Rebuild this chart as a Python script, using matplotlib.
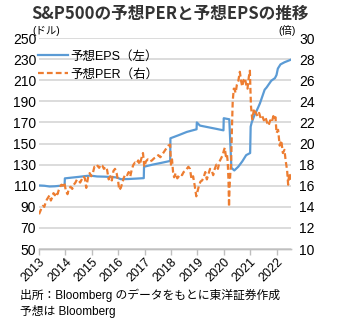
import matplotlib
matplotlib.use("Agg")
import matplotlib.pyplot as plt
from matplotlib.lines import Line2D

plt.rcParams['font.family'] = ['Liberation Sans', 'Noto Sans CJK JP', 'DejaVu Sans']

BLUE = "#5B9BD5"
ORANGE = "#ED7D31"
GRID = "#D9D9D9"

title = "S&P500の予想PERと予想EPSの推移"
eps_label = "予想EPS（左）"
per_label = "予想PER（右）"
note1 = "出所：Bloomberg のデータをもとに東洋証券作成"
note2 = "予想は Bloomberg"

years = list(range(2013, 2023))
left_ticks = list(range(50, 251, 20))
right_ticks = list(range(10, 31, 2))

# forward EPS (USD), steps at each year roll-over
eps_t = [2013.00, 2013.20, 2013.40, 2013.60, 2013.80, 2013.97, 2013.98, 2014.20,
         2014.50, 2014.80, 2014.95, 2015.20, 2015.50, 2015.80, 2015.95, 2016.10,
         2016.40, 2016.70, 2016.97, 2016.98, 2017.30, 2017.60, 2017.97, 2017.98,
         2018.30, 2018.60, 2018.97, 2018.98, 2019.10, 2019.40, 2019.70, 2019.99,
         2020.00, 2020.10, 2020.21, 2020.25, 2020.29, 2020.40, 2020.55, 2020.70,
         2020.85, 2021.00, 2021.02, 2021.06, 2021.15, 2021.30, 2021.37, 2021.55,
         2021.62, 2021.80, 2021.94, 2022.00, 2022.05, 2022.15, 2022.30, 2022.45,
         2022.55]
eps_v = [110.3, 110.0, 109.3, 109.5, 110.0, 110.5, 117.0, 117.6,
         118.4, 119.3, 119.6, 118.8, 118.6, 118.2, 117.8, 116.2,
         116.4, 116.8, 117.2, 128.0, 130.0, 131.5, 133.5, 155.0,
         158.0, 161.0, 163.5, 170.0, 167.0, 165.5, 164.0, 162.5,
         174.0, 173.5, 173.0, 150.0, 127.0, 124.5, 128.0, 133.0,
         139.0, 141.0, 166.0, 170.0, 176.0, 184.0, 188.0, 201.0,
         203.0, 209.5, 212.0, 215.0, 221.0, 225.0, 227.0, 228.5,
         229.5]

# forward PER (times)
per_t = [2013.00, 2013.05, 2013.10, 2013.15, 2013.20, 2013.25, 2013.30, 2013.35,
         2013.40, 2013.45, 2013.50, 2013.55, 2013.60, 2013.65, 2013.70, 2013.75,
         2013.80, 2013.85, 2013.90, 2013.96, 2014.02, 2014.08, 2014.14, 2014.20,
         2014.26, 2014.32, 2014.38, 2014.44, 2014.50, 2014.56, 2014.62, 2014.68,
         2014.74, 2014.79, 2014.86, 2014.92, 2014.98, 2015.04, 2015.10, 2015.16,
         2015.22, 2015.28, 2015.34, 2015.40, 2015.46, 2015.52, 2015.58, 2015.64,
         2015.70, 2015.76, 2015.82, 2015.88, 2015.94, 2016.00, 2016.04, 2016.10,
         2016.16, 2016.22, 2016.28, 2016.34, 2016.40, 2016.46, 2016.52, 2016.58,
         2016.64, 2016.70, 2016.76, 2016.82, 2016.88, 2016.94, 2016.99, 2017.05,
         2017.12, 2017.20, 2017.28, 2017.36, 2017.44, 2017.52, 2017.60, 2017.68,
         2017.76, 2017.84, 2017.90, 2017.97, 2018.00, 2018.04, 2018.08, 2018.12,
         2018.18, 2018.24, 2018.30, 2018.36, 2018.42, 2018.48, 2018.54, 2018.60,
         2018.66, 2018.72, 2018.78, 2018.84, 2018.90, 2018.96, 2019.00, 2019.06,
         2019.12, 2019.18, 2019.24, 2019.30, 2019.36, 2019.42, 2019.48, 2019.54,
         2019.60, 2019.66, 2019.72, 2019.78, 2019.84, 2019.90, 2019.96, 2020.00,
         2020.04, 2020.08, 2020.12, 2020.15, 2020.18, 2020.20, 2020.22, 2020.25,
         2020.28, 2020.31, 2020.34, 2020.38, 2020.40, 2020.45, 2020.50, 2020.55,
         2020.61, 2020.66, 2020.70, 2020.75, 2020.80, 2020.85, 2020.90, 2020.95,
         2020.99, 2021.03, 2021.08, 2021.15, 2021.22, 2021.28, 2021.34, 2021.40,
         2021.46, 2021.52, 2021.58, 2021.64, 2021.70, 2021.76, 2021.82, 2021.88,
         2021.92, 2021.96, 2022.00, 2022.06, 2022.12, 2022.18, 2022.24, 2022.30,
         2022.35, 2022.40, 2022.44, 2022.48, 2022.52, 2022.55]
per_v = [13.3, 13.6, 13.9, 14.1, 14.0, 14.4, 14.7, 14.9,
         15.1, 14.6, 14.9, 15.3, 15.1, 15.4, 15.2, 15.6,
         15.9, 16.1, 16.0, 16.3, 15.5, 15.2, 15.8, 15.9,
         15.7, 16.1, 16.3, 16.6, 16.5, 16.3, 16.6, 16.9,
         16.7, 15.8, 16.8, 17.2, 16.9, 17.2, 17.8, 17.7,
         17.9, 17.7, 18.0, 17.9, 17.6, 17.8, 17.5, 16.6,
         16.9, 16.5, 17.4, 17.6, 17.2, 16.4, 15.6, 15.8,
         16.3, 16.8, 17.1, 17.0, 17.3, 16.9, 17.6, 18.0,
         18.2, 18.1, 18.4, 18.0, 18.6, 19.1, 17.8, 18.3,
         18.5, 18.3, 18.4, 18.6, 18.7, 18.9, 18.7, 19.0,
         19.3, 19.6, 19.8, 19.9, 18.0, 18.5, 17.3, 16.8,
         17.2, 16.7, 16.9, 17.1, 17.0, 17.3, 17.4, 17.6,
         17.8, 17.6, 16.6, 16.9, 16.0, 15.0, 15.4, 16.0,
         16.4, 16.5, 16.8, 17.3, 16.6, 17.1, 17.6, 17.5,
         17.0, 17.6, 18.0, 17.6, 18.3, 18.6, 18.9, 19.3,
         19.6, 18.8, 19.0, 18.3, 16.5, 14.0, 15.8, 17.2,
         18.2, 21.4, 24.0, 25.2, 25.2, 24.8, 25.6, 25.9,
         26.8, 25.9, 25.4, 26.0, 26.2, 25.6, 25.2, 26.3,
         26.9, 23.6, 22.3, 23.3, 22.9, 22.6, 22.9, 22.4,
         22.6, 22.2, 22.5, 22.0, 21.7, 22.2, 22.0, 22.6,
         22.3, 22.5, 21.0, 21.3, 19.8, 20.3, 19.1, 19.4,
         18.3, 17.5, 16.1, 17.2, 16.9, 16.5]

fig = plt.figure(figsize=(3.40, 3.26), dpi=100)
ax = fig.add_axes([0.1147, 0.236, 0.7413, 0.6474])
ax2 = ax.twinx()

ax.plot(eps_t, eps_v, color=BLUE, lw=1.6, zorder=3)
ax2.plot(per_t, per_v, color=ORANGE, lw=1.6, linestyle=(0, (2.6, 1.4)), zorder=3)

ax.set_xlim(2013, 2022.55)
ax.set_ylim(50, 250)
ax2.set_ylim(10, 30)
ax.set_yticks(left_ticks)
ax2.set_yticks(right_ticks)
ax.set_xticks(years)
ax.set_xticklabels([str(y) for y in years], rotation=45, ha='right',
                   rotation_mode='anchor', fontsize=9)

for a in (ax, ax2):
    for s in ('top', 'left', 'right'):
        a.spines[s].set_visible(False)
    a.spines['bottom'].set_color("#BFBFBF")
    a.spines['bottom'].set_linewidth(1.0)
ax.yaxis.grid(True, color=GRID, lw=1.3)
ax.set_axisbelow(True)
ax.tick_params(axis='y', length=0, labelsize=10, pad=2)
ax2.tick_params(axis='y', length=0, labelsize=10, pad=6)
ax.tick_params(axis='x', length=4, color="#BFBFBF", width=1.0, pad=1)

handles = [Line2D([], [], color=BLUE, lw=1.6),
           Line2D([], [], color=ORANGE, lw=1.6, linestyle=(0, (2.6, 1.4)))]
ax2.legend(handles, [eps_label, per_label], loc='upper left',
           bbox_to_anchor=(-0.005, 0.94), frameon=False, fontsize=9,
           handlelength=2.4, handletextpad=0.2, labelspacing=0.45,
           borderaxespad=0, borderpad=0)

fig.text(0.5, 0.957, title, ha='center', va='center', fontsize=12,
         fontweight='bold', family=['Noto Sans CJK JP'], color="#333333")
fig.text(0.094, 0.905, "(ドル)", ha='left', va='center', fontsize=7.5)
fig.text(0.818, 0.905, "(倍)", ha='left', va='center', fontsize=7.5)
fig.text(0.06, 0.093, note1, ha='left', va='center', fontsize=8.5)
fig.text(0.06, 0.043, note2, ha='left', va='center', fontsize=8.5)

fig.savefig("out.png", dpi=100)
